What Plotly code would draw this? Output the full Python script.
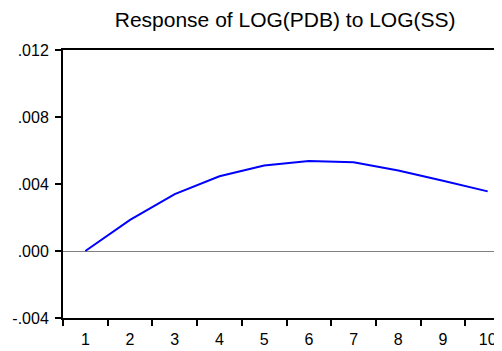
import plotly.graph_objects as go

periods = [1, 2, 3, 4, 5, 6, 7, 8, 9, 10]
response = [0.0, 0.00186, 0.0034, 0.00446, 0.0051, 0.00538, 0.0053, 0.0048, 0.0042, 0.00356]
y_ticks = [-0.004, 0.0, 0.004, 0.008, 0.012]
y_tick_text = ["-.004", ".000", ".004", ".008", ".012"]
title_text = "Response of LOG(PDB) to LOG(SS)"

font_family = "Liberation Sans, Arial, sans-serif"

# page body has an 8px default margin, so the figure is sized to fit the 502x351 window
fig = go.Figure()
fig.add_trace(go.Scatter(x=periods, y=response, mode="lines",
                         line=dict(color="#0000FF", width=2), showlegend=False, hoverinfo="skip"))
# invisible trace on a second x axis that carries the period labels
fig.add_trace(go.Scatter(x=periods, y=response, mode="lines", xaxis="x2",
                         line=dict(color="rgba(0,0,0,0)", width=0), showlegend=False, hoverinfo="skip"))

x_range = [0.5, 10.32]
fig.update_layout(
    width=494, height=343,
    margin=dict(l=55, r=0, t=42, b=33),
    paper_bgcolor="white", plot_bgcolor="white",
    title=dict(text=title_text, x=0.561, xanchor="center", y=0.965, yanchor="middle",
               font=dict(family=font_family, size=21, color="black")),
    xaxis=dict(range=x_range, tickvals=[p - 0.5 for p in periods], ticktext=[""] * len(periods),
               ticks="outside", ticklen=6, tickwidth=1.5, tickcolor="black",
               showline=True, linecolor="black", linewidth=2, mirror=True,
               showgrid=False, zeroline=False),
    xaxis2=dict(range=x_range, overlaying="x", side="bottom", anchor="y",
                tickvals=periods, ticktext=[str(p) for p in periods], ticks="",
                ticklabelstandoff=10,
                showline=False, showgrid=False, zeroline=False,
                tickfont=dict(family=font_family, size=16, color="black")),
    yaxis=dict(range=[-0.004, 0.012], tickvals=y_ticks, ticktext=y_tick_text,
               ticks="outside", ticklen=6, tickwidth=1.5, tickcolor="black",
               ticklabelstandoff=3,
               showline=True, linecolor="black", linewidth=2, mirror=False,
               showgrid=False, zeroline=True, zerolinecolor="#808080", zerolinewidth=1,
               tickfont=dict(family=font_family, size=16, color="black")),
)

fig.write_html("out.html")
